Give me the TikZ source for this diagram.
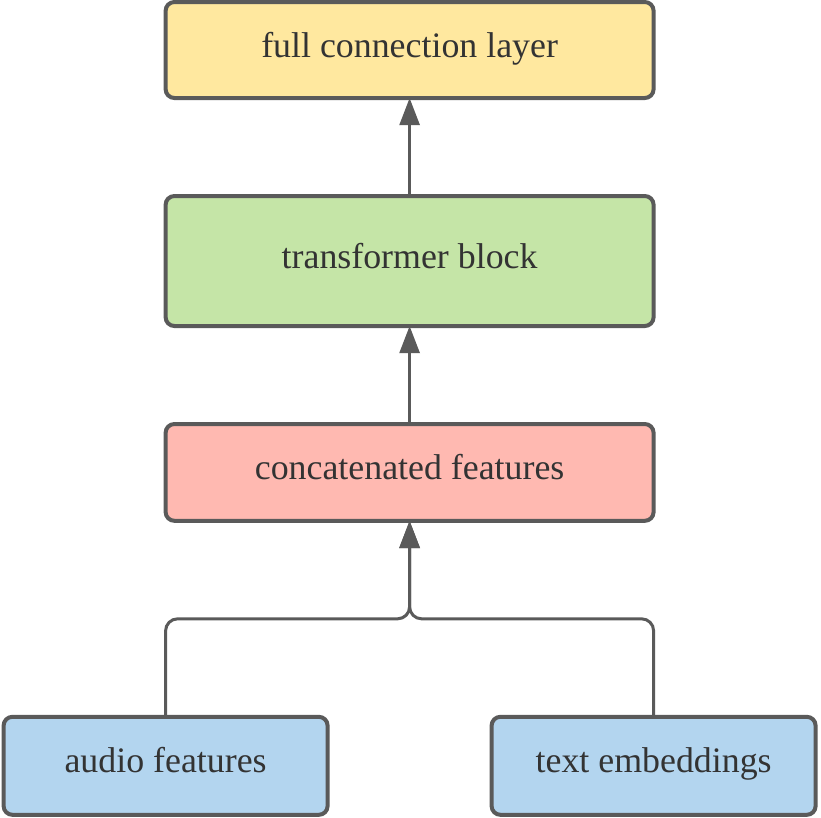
\documentclass[tikz,border=0pt]{standalone}
\usepackage{fontspec}
\setmainfont{Liberation Serif}
\usepackage{tikz}
\usetikzlibrary{arrows.meta, positioning}

\definecolor{edgegray}{HTML}{5A5A5A}
\definecolor{textgray}{HTML}{333333}
\definecolor{fclyellow}{HTML}{FFE89F}
\definecolor{tbgreen}{HTML}{C5E5A7}
\definecolor{cfred}{HTML}{FFB9B1}
\definecolor{inblue}{HTML}{B3D5EF}

\begin{document}
\begin{tikzpicture}[
    node distance=2.45cm,
    block/.style={rectangle, rounded corners=0.22cm, minimum width=12.2cm, text centered, draw=edgegray, line width=0.1cm, outer sep=0pt, text=textgray, text height=0.5cm, text depth=0.15cm, font=\fontsize{25.5}{30}\selectfont},
    inputbox/.style={block, minimum width=8.1cm, minimum height=2.45cm, fill=inblue},
    arrow/.style={draw=edgegray, line width=0.075cm, -{Triangle[length=0.68cm, width=0.5cm]}, rounded corners=0.3cm},
]
    \useasboundingbox (0,0) rectangle (20.525,-20.425);

    % main stack
    \node (fcl) [block, minimum height=2.4cm, fill=fclyellow] at (10.24,-1.25) {full connection layer};
    \node (tb) [block, minimum height=3.25cm, fill=tbgreen, below=of fcl] {transformer block};
    \node (cf) [block, minimum height=2.42cm, fill=cfred, below=of tb] {concatenated features};

    % inputs
    \node (audio) [inputbox, below=4.9cm of cf.south west, anchor=north] {audio features};
    \node (text) [inputbox, below=4.9cm of cf.south east, anchor=north] {text embeddings};

    \coordinate [below=2.45cm of cf.south] (merge);

    \draw [arrow] (tb) -- (fcl);
    \draw [arrow] (cf) -- (tb);
    \draw [arrow] (audio.north) |- (merge) -- (cf.south);
    \draw [arrow] (text.north) |- (merge) -- (cf.south);

\end{tikzpicture}
\end{document}
